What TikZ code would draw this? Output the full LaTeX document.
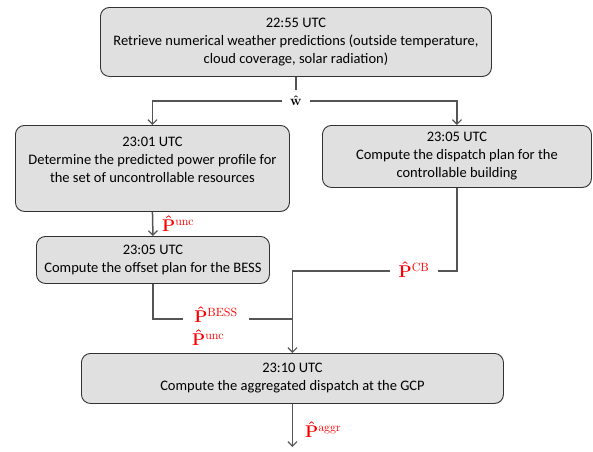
\RequirePackage{fix-cm}
\documentclass[tikz,border=0pt]{standalone}
\usepackage[no-math]{fontspec}
\setmainfont{Carlito}
\DeclareMathAlphabet{\mathbf}{OT1}{cmr}{bx}{n}
\DeclareMathAlphabet{\mathrm}{OT1}{cmr}{m}{n}
\usetikzlibrary{arrows.meta}
\definecolor{boxfill}{RGB}{224,224,224}
\definecolor{boxline}{RGB}{50,50,50}
\definecolor{connline}{RGB}{85,85,85}
\newcommand{\hP}{\mathbf{\hat{P}}}
\begin{document}
\begin{tikzpicture}[x=1pt,y=-1pt,
  stepbox/.style={draw=boxline,fill=boxfill,line width=0.9pt,rounded corners=9pt,
    anchor=north west,inner sep=0pt,align=center,
    font=\fontsize{14.5}{18}\selectfont},
  conn/.style={draw=connline,line width=1.5pt},
  arr/.style={-{Straight Barb[length=4.5pt,width=9pt,line width=1.2pt]}},
  sig/.style={text=red,inner sep=0pt,font=\fontsize{17}{18}\selectfont},
  gap/.style={fill=white,inner ysep=4pt}]
\useasboundingbox (0,0) rectangle (593,451);
\node[stepbox,minimum width=391pt,minimum height=69pt] (b1) at (100,7)
  {22:55 UTC\\Retrieve numerical weather predictions (outside temperature,\\cloud coverage, solar radiation)};
\node[stepbox,minimum width=274pt,minimum height=86pt] (b2) at (15,125)
  {23:01 UTC\\Determine the predicted power profile for\\the set of uncontrollable resources\\\mbox{}};
\node[stepbox,minimum width=269pt,minimum height=62pt] (b3) at (322,125)
  {23:05 UTC\\Compute the dispatch plan for the\\controllable building};
\node[stepbox,minimum width=233pt,minimum height=47pt] (b4) at (36,236)
  {23:05 UTC\\Compute the offset plan for the BESS};
\node[stepbox,minimum width=422pt,minimum height=50pt] (b5) at (81,353)
  {23:10 UTC\\Compute the aggregated dispatch at the GCP};
\coordinate (jw) at (b1.south |- 0,101);
\coordinate (jm) at (b5.north |- 0,271);
\coordinate (jb) at (b5.north |- 0,319);
\coordinate (end) at (b5.south |- 0,447);
% connectors
\draw[conn] (b1.south) -- (jw);
\draw[conn,arr] (jw) -| (b2.north);
\draw[conn,arr] (jw) -| (b3.north);
\draw[conn,arr] (b2.south) -- (b4.north);
\draw[conn] (b4.south) |- (jb);
\draw[conn] (b3.south) |- (jm);
\draw[conn,arr] (jm) -- (b5.north);
\draw[conn,arr] (b5.south) -- (end);
% labels
\node[fill=white,inner xsep=8pt,inner ysep=6pt,font=\fontsize{14}{16}\selectfont] (lw) at (jw) {$\mathbf{\hat{w}}$};
\node[sig,anchor=west] (lunc) at (162,224) {$\hP^{\mathrm{unc}}$};
\node[sig,gap,inner xsep=11pt] (lbess) at (216,315) {$\hP^{\mathrm{BESS}}$};
\node[sig,anchor=west] (lunc2) at (192,338) {$\hP^{\mathrm{unc}}$};
\node[sig,gap,inner xsep=9pt] (lcb) at (414,270) {$\hP^{\mathrm{CB}}$};
\node[sig,anchor=west] (laggr) at (305,430) {$\hP^{\mathrm{aggr}}$};
\end{tikzpicture}
\end{document}
